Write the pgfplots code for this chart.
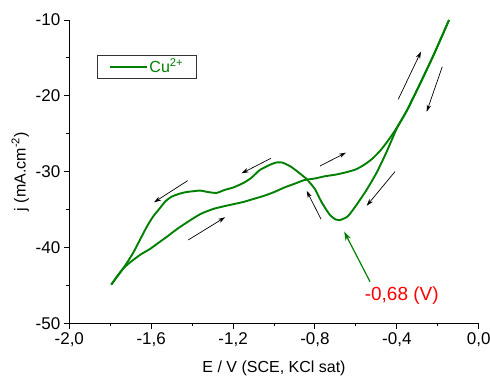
\documentclass[border=0pt]{standalone}
\usepackage{pgfplots}
\pgfplotsset{compat=1.18}
\usepackage{fontspec}
\setmainfont{Liberation Sans}
\usetikzlibrary{arrows.meta}
\definecolor{cvgreen}{RGB}{0,128,0}
\begin{document}
\begin{tikzpicture}
\begin{axis}[
  scale only axis,
  width=409.4pt, height=303.3pt,
  xmin=-2, xmax=0, ymin=-50, ymax=-10,
  axis x line*=bottom, axis y line*=left,
  axis line style={line width=0.9pt},
  tick align=outside,
  major tick length=5.5pt, minor tick length=3pt,
  every tick/.style={line width=0.9pt, black},
  xtick={-2,-1.6,-1.2,-0.8,-0.4,0},
  ytick={-50,-40,-30,-20,-10},
  minor x tick num=1, minor y tick num=1,
  /pgf/number format/assume math mode=true,
  xticklabel style={/pgf/number format/.cd, use comma, fixed, fixed zerofill, precision=1},
  yticklabel style={/pgf/number format/.cd, fixed, precision=0},
  tick label style={font=\fontsize{17}{20}\selectfont},
  xlabel={E / V (SCE, KCl sat)},
  ylabel={j (mA.cm\textsuperscript{-2})},
  every axis x label/.style={at={(axis description cs:0.5,-0.148)}, anchor=center, font=\fontsize{16}{19}\selectfont},
  every axis y label/.style={at={(axis description cs:-0.12,0.5)}, rotate=90, anchor=center, font=\fontsize{16}{19}\selectfont},
  legend style={at={(axis description cs:0.0684,0.8846)}, anchor=north west,
    draw=black!80, line width=0.6pt, font=\fontsize{16}{19}\selectfont, text=cvgreen,
    inner xsep=11pt, inner ysep=1.5pt},
  legend image code/.code={\draw[#1] (0cm,0cm) -- (1.3cm,0cm);},
  clip=false,
]
% cathodic (forward) scan
\addplot[cvgreen, line width=1.9pt, smooth, tension=0.4] coordinates {
(-0.145,-10.0) (-0.22,-14.6) (-0.29,-18.6) (-0.35,-21.9) (-0.40,-24.3) (-0.45,-27.4)
(-0.50,-30.2) (-0.55,-32.5) (-0.60,-34.5) (-0.64,-35.9) (-0.68,-36.4) (-0.70,-36.3)
(-0.73,-35.6) (-0.77,-33.9) (-0.80,-32.3) (-0.84,-31.0) (-0.88,-30.1) (-0.92,-29.3)
(-0.96,-28.8) (-0.99,-28.8) (-1.02,-29.1) (-1.07,-29.8) (-1.11,-30.8) (-1.15,-31.5)
(-1.20,-32.1) (-1.24,-32.4) (-1.28,-32.8) (-1.32,-32.7) (-1.36,-32.5) (-1.40,-32.6)
(-1.43,-32.7) (-1.46,-32.9) (-1.50,-33.3) (-1.53,-33.9) (-1.56,-34.9) (-1.59,-35.9)
(-1.62,-37.2) (-1.655,-39.0) (-1.69,-40.8) (-1.736,-42.75) (-1.765,-43.8) (-1.795,-44.9)
};
\addlegendentry{Cu\textsuperscript{2+}}
% anodic (reverse) scan
\addplot[cvgreen, line width=1.9pt, smooth, tension=0.4, forget plot] coordinates {
(-1.795,-44.9) (-1.765,-43.75) (-1.736,-42.75) (-1.70,-41.9) (-1.65,-40.9) (-1.606,-40.2)
(-1.56,-39.3) (-1.524,-38.6) (-1.47,-37.5) (-1.42,-36.6) (-1.36,-35.6) (-1.30,-34.95)
(-1.25,-34.6) (-1.20,-34.3) (-1.15,-34.0) (-1.10,-33.6) (-1.05,-33.2) (-1.00,-32.7)
(-0.95,-32.1) (-0.90,-31.6) (-0.85,-31.1) (-0.80,-30.9) (-0.75,-30.6) (-0.70,-30.4)
(-0.65,-30.1) (-0.60,-29.7) (-0.56,-29.1) (-0.52,-28.3) (-0.48,-27.2) (-0.44,-25.8)
(-0.40,-24.2) (-0.35,-21.9) (-0.29,-18.6) (-0.22,-14.6) (-0.145,-10.0)
};
% scan direction arrows
\begin{scope}[line width=0.7pt, -{Stealth[length=7pt,width=4.5pt]}]
\draw (axis cs:-0.393,-20.46) -- (axis cs:-0.282,-14.18);
\draw (axis cs:-0.178,-16.16) -- (axis cs:-0.254,-22.09);
\draw (axis cs:-0.775,-29.25) -- (axis cs:-0.648,-27.50);
\draw (axis cs:-0.409,-30.00) -- (axis cs:-0.547,-34.49);
\draw (axis cs:-0.770,-36.28) -- (axis cs:-0.840,-32.55);
\draw (axis cs:-1.015,-28.24) -- (axis cs:-1.158,-30.22);
\draw (axis cs:-1.422,-31.19) -- (axis cs:-1.586,-34.04);
\draw (axis cs:-1.419,-39.01) -- (axis cs:-1.239,-36.02);
\end{scope}
\draw[cvgreen, line width=1.2pt, -{Stealth[length=9pt,width=6pt]}] (axis cs:-0.531,-44.51) -- (axis cs:-0.657,-37.92);
\node[text=red, font=\fontsize{19}{22}\selectfont, anchor=center] at (axis cs:-0.376,-46.4) {-0,68 (V)};
\end{axis}
\pgfresetboundingbox
\path (current axis.south west) ++(-69.3pt,-55.7pt) coordinate (bbA);
\path (current axis.north east) ++(11.3pt,20pt) coordinate (bbB);
\path[use as bounding box] (bbA) rectangle (bbB);
\end{tikzpicture}
\end{document}
